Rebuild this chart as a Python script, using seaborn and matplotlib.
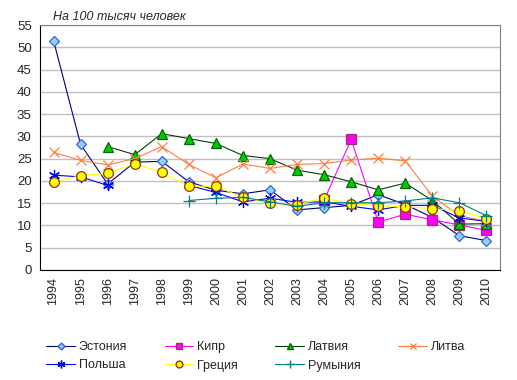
import matplotlib
matplotlib.use("Agg")
import matplotlib.pyplot as plt
import seaborn as sns
import numpy as np
import pandas as pd

# Годы и значения (на 100 тысяч человек)
years = list(range(1994, 2011))
nan = np.nan

estonia = [51.5, 28.2, 19.3, 24.2, 24.4, 19.8, 17.9, 17.1, 18.0, 13.5, 14.0, 14.5, 16.9, 14.7, 11.8, 7.7, 6.6]
cyprus = [nan, nan, nan, nan, nan, nan, nan, nan, nan, nan, 15.7, 29.3, 10.8, 12.5, 11.3, 10.1, 8.9]
latvia = [nan, nan, 27.7, 25.9, 30.6, 29.5, 28.4, 25.7, 25.0, 22.4, 21.4, 19.8, 18.0, 19.5, 15.6, 10.3, 10.4]
lithuania = [26.4, 24.6, 23.6, 25.0, 27.7, 23.7, 20.7, 23.8, 22.8, 23.7, 23.9, 24.7, 25.1, 24.5, 16.6, 12.2, 10.9]
poland = [21.3, 20.9, 19.0, nan, nan, 19.0, 17.4, 15.3, 16.1, 15.2, 15.3, 14.3, 13.5, 14.5, 14.5, 11.7, 10.9]
greece = [19.7, 21.2, 21.7, 23.9, 21.9, 18.8, 18.8, 16.3, 15.0, 14.7, 16.1, 14.9, 14.4, 14.2, 13.8, 13.3, 11.5]
romania = [nan, nan, nan, nan, nan, 15.6, 16.1, 16.3, 15.3, 14.3, 15.1, 15.1, 15.1, 15.5, 16.2, 15.1, 12.2]

names = ["Эстония", "Кипр", "Латвия", "Литва", "Польша", "Греция", "Румыния"]
series = [estonia, cyprus, latvia, lithuania, poland, greece, romania]

# стиль: цвет линии, маркер, заливка маркера, край маркера, размер
styles = [
    ("#000080", "D", "#99ccff", "#3366cc", 5),
    ("#ff00ff", "s", "#ff00ff", "#993366", 7),
    ("#004000", "^", "#00cc00", "#006600", 7),
    ("#ff7f3f", "x", "none", "#ff7f3f", 7),
    ("#0000ff", (6, 2, 0), "#0000ff", "#0000ff", 8),
    ("#ffff00", "o", "#ffff00", "#993300", 7),
    ("#008080", "+", "none", "#008080", 8),
]

sns.set_style("white")
plt.rcParams["font.family"] = ["Liberation Sans", "DejaVu Sans"]

fig = plt.figure(figsize=(5.17, 3.80), dpi=100)
ax = fig.add_axes([40 / 517, 1 - 270 / 380, 460 / 517, 245 / 380])

handles = []
for name, vals, (lc, mk, fc, ec, ms) in zip(names, series, styles):
    df = pd.DataFrame({"year": years, "value": vals})
    df["seg"] = df["value"].isna().cumsum()
    df = df.dropna()
    # разрывы в данных рисуем отдельными кусками
    for _, part in df.groupby("seg"):
        sns.lineplot(data=part, x="year", y="value", ax=ax, color=lc, lw=0.8,
                     marker=mk, markersize=ms, markerfacecolor=fc,
                     markeredgecolor=ec, markeredgewidth=0.9, legend=False)
    h, = ax.plot([], [], color=lc, lw=0.8, marker=mk, markersize=ms * 0.7,
                 markerfacecolor=fc, markeredgecolor=ec)
    handles.append(h)

ax.set_xlim(1993.5, 2010.5)
ax.set_ylim(0, 55)
ax.set_yticks(range(0, 56, 5))
ax.set_xticks(years)
ax.set_xticklabels([str(y) for y in years], rotation=90, fontsize=9)
ax.tick_params(axis="y", labelsize=9.5, length=0, pad=6)
ax.tick_params(axis="x", length=0, pad=5)
ax.yaxis.grid(True, color="#c0c0c0", lw=1)
ax.set_axisbelow(True)
ax.set_xlabel("")
ax.set_ylabel("")
for s in ["top", "right"]:
    ax.spines[s].set_color("#808080")
for s in ["left", "bottom"]:
    ax.spines[s].set_color("black")

fig.text(53 / 517, 1 - 17 / 380, "На 100 тысяч человек", fontsize=9,
         style="italic", va="center", ha="left")

# легенда заполняется по столбцам, поэтому переставляем порядок
order = [0, 4, 1, 5, 2, 6, 3]
fig.legend([handles[i] for i in order], [names[i] for i in order],
           ncol=4, loc="upper left",
           bbox_to_anchor=(35 / 517, 1 - 330 / 380), frameon=False,
           fontsize=9, handlelength=2.3, handletextpad=0.3,
           columnspacing=3.0, labelspacing=0.5)

fig.savefig("out.png", dpi=100)
